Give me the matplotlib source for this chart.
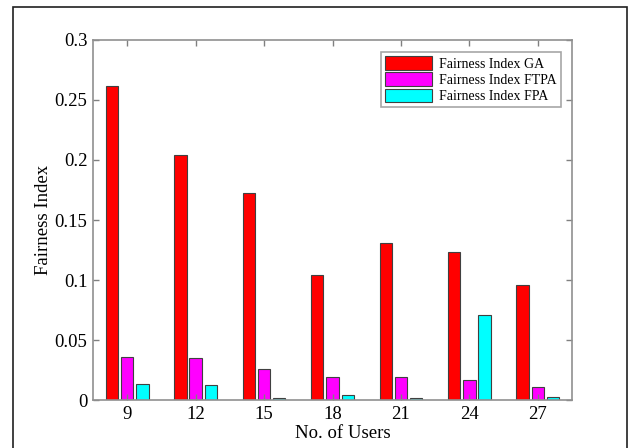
import matplotlib
matplotlib.use("Agg")
import matplotlib.pyplot as plt
import numpy as np
from matplotlib.patches import Rectangle

users = ["9", "12", "15", "18", "21", "24", "27"]
ga = [0.2617, 0.2042, 0.1728, 0.1039, 0.1311, 0.1233, 0.0961]
ftpa = [0.0356, 0.0347, 0.0258, 0.0194, 0.0194, 0.0167, 0.0111]
fpa = [0.0131, 0.0122, 0.0013, 0.0039, 0.0013, 0.0708, 0.0028]
series_names = ["Fairness Index GA", "Fairness Index FTPA", "Fairness Index FPA"]
colors = ["#ff0000", "#ff00ff", "#00ffff"]

plt.rcParams['font.family'] = ['Liberation Serif', 'DejaVu Serif']

fig = plt.figure(figsize=(6.32, 4.48), dpi=100)
ax = fig.add_axes([93/632, 1-400/448, (572-93)/632, (400-40)/448])

x = np.arange(len(users))
offs = [-0.222, 0.0, 0.222]
w = 0.18
for vals, off, c, name in zip([ga, ftpa, fpa], offs, colors, series_names):
    ax.bar(x + off, vals, width=w, color=c, edgecolor="#404040", linewidth=0.8, label=name)

ax.set_xlim(-0.5, 6.5)
ax.set_ylim(0, 0.3)
ax.set_xticks(x)
ax.set_xticklabels(users)
ax.set_yticks([0, 0.05, 0.1, 0.15, 0.2, 0.25, 0.3])
ax.set_yticklabels(["0", "0.05", "0.1", "0.15", "0.2", "0.25", "0.3"])
ax.tick_params(direction="in", length=4, width=1, color="#808080", labelsize=13.5,
               top=True, right=True, pad=4)
for s in ax.spines.values():
    s.set_color("#909090")
    s.set_linewidth(1.2)

ax.set_xlabel("No. of Users", fontsize=13.5)
ax.xaxis.set_label_coords(0.522, -0.07)
ax.set_ylabel("Fairness Index", fontsize=13.5)
ax.yaxis.set_label_coords(-0.085, 0.5)

leg = ax.legend(loc="upper right", bbox_to_anchor=(0.977, 0.967), fontsize=10,
                frameon=True, fancybox=False, handlelength=3.4, handleheight=1.15,
                borderpad=0.3, labelspacing=0.12, handletextpad=0.5, borderaxespad=0)
leg.get_frame().set_edgecolor("#909090")
leg.get_frame().set_linewidth(1.2)

fig.patches.append(Rectangle((13/632, -0.1), (627-13)/632, 1.1 - 7/448,
                             transform=fig.transFigure, fill=False,
                             edgecolor="#202020", linewidth=1.2))

fig.savefig("out.png", dpi=100)
